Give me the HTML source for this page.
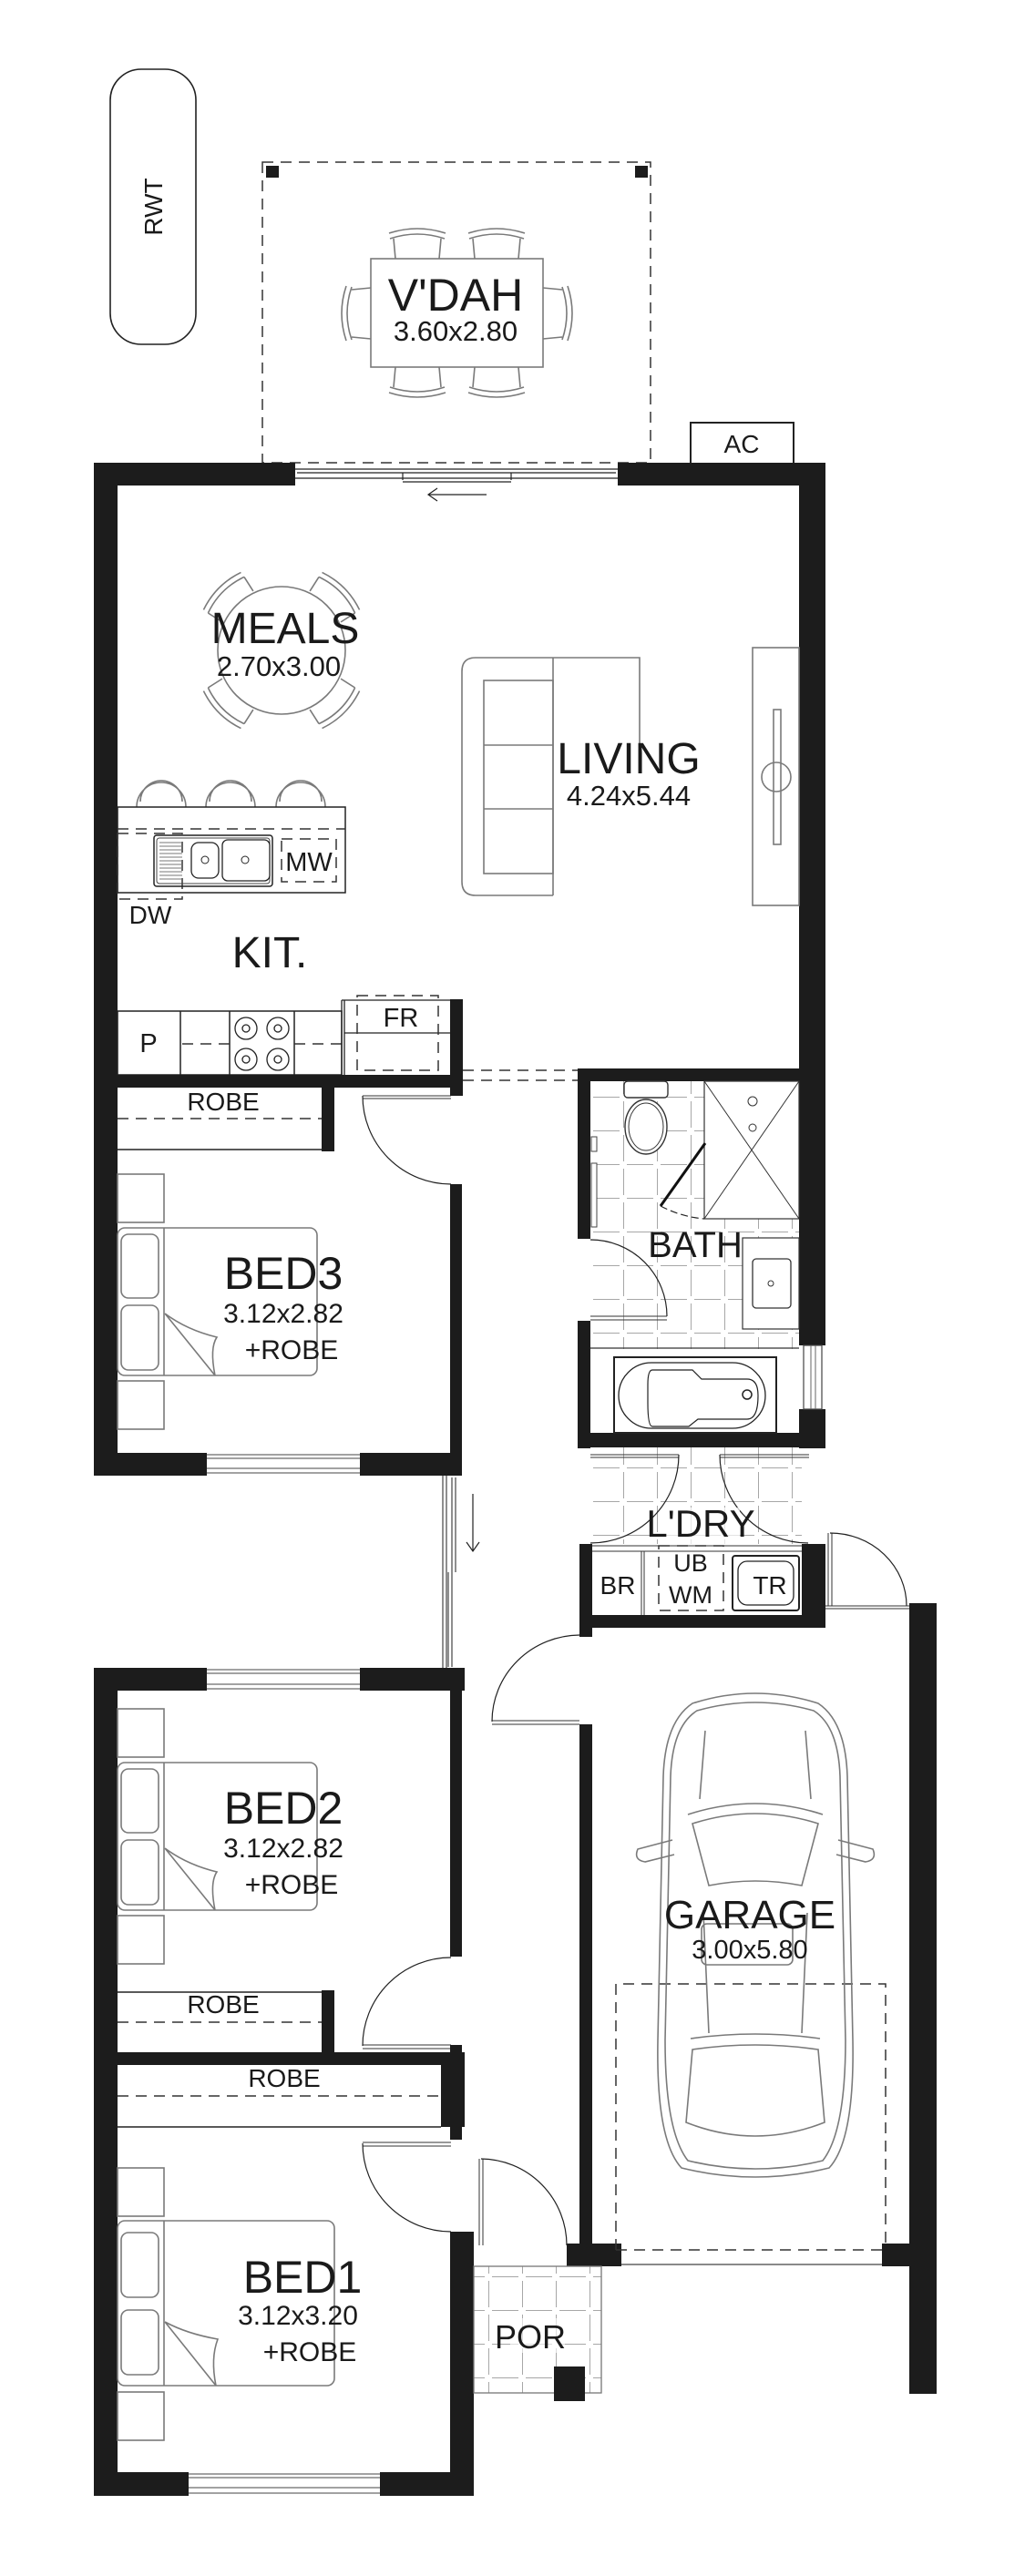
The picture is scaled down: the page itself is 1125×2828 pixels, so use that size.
<!DOCTYPE html>
<html><head><meta charset="utf-8">
<style>
html,body{margin:0;padding:0;background:#fff;}
svg{display:block;}
text{font-family:"Liberation Sans",Arial,sans-serif;fill:#1a1a1a;text-anchor:middle;}
.f{fill:none;stroke:#7a7a7a;stroke-width:1.6;}
.d{fill:none;stroke:#222;stroke-width:1.2;}
.dash{fill:none;stroke:#333;stroke-width:1.5;stroke-dasharray:12 8;}
.w{fill:#1c1c1c;}
</style></head><body>
<svg width="1125" height="2828" viewBox="0 0 1125 2828" xmlns="http://www.w3.org/2000/svg">
<defs>
<pattern id="tile" patternUnits="userSpaceOnUse" width="37" height="37" x="647" y="1168">
<path d="M0 4 V33 M4 37 H33" stroke="#8a8a8a" stroke-width="1.5" fill="none"/>
</pattern>
</defs>

<rect x="121" y="76" width="94" height="302" rx="34" fill="none" stroke="#222" stroke-width="1.6"/>
<text x="0" y="0" font-size="28" transform="translate(178,227) rotate(-90)">RWT</text>

<rect x="288" y="178" width="426" height="330" class="dash" stroke="#555"/>
<rect x="292" y="182" width="14" height="13" class="w"/>
<rect x="697" y="182" width="14" height="13" class="w"/>
<rect x="407" y="284" width="189" height="119" class="f"/>
<g class="f">
<path d="M428 262 Q458 252 488 262 M427 256 Q458 246 489 256 M432 262 L434 284 M484 262 L482 284"/>
<path d="M515 262 Q545 252 575 262 M514 256 Q545 246 576 256 M519 262 L521 284 M571 262 L569 284"/>
<path d="M428 425 Q458 435 488 425 M427 431 Q458 441 489 431 M432 425 L434 403 M484 425 L482 403"/>
<path d="M515 425 Q545 435 575 425 M514 431 Q545 441 576 431 M519 425 L521 403 M571 425 L569 403"/>
<path d="M386 315 Q376 344 386 373 M380 314 Q370 344 380 374 M386 318 L407 316 M386 370 L407 372"/>
<path d="M617 315 Q627 344 617 373 M623 314 Q633 344 623 374 M617 318 L596 316 M617 370 L596 372"/>
</g>
<text x="500" y="341" font-size="50">V'DAH</text>
<text x="500" y="374" font-size="31">3.60x2.80</text>

<rect x="758" y="464" width="113" height="45" fill="#fff" stroke="#222" stroke-width="2"/>
<text x="814" y="497" font-size="28">AC</text>

<rect x="103" y="508" width="221" height="25" class="w"/>
<rect x="678" y="508" width="228" height="25" class="w"/>
<g class="d" stroke="#333">
<path d="M324 515 H678 M324 525 H678 M326 519 H442 V527 M442 519 H561 M442 529 H561 M561 519 V527 M561 519 H676"/>
<path d="M534 543 H470 M480 536 L470 543 L480 550"/>
</g>

<rect x="103" y="508" width="26" height="1112" class="w"/>
<rect x="877" y="508" width="29" height="969" class="w"/>
<rect x="877" y="1547" width="29" height="43" class="w"/>
<rect x="882" y="1477" width="20" height="70" fill="none" stroke="#444" stroke-width="1.2"/>
<path d="M890 1477 V1547 M895 1477 V1547" stroke="#666" stroke-width="1"/>

<circle cx="309" cy="714" r="70" class="f"/>
<g class="f">
<g transform="translate(309,714) rotate(-45)"><path d="M-28 -86 Q0 -96 28 -86 M-29 -92 Q0 -102 29 -92 M-28 -86 L-24 -68 M28 -86 L24 -68"/></g>
<g transform="translate(309,714) rotate(45)"><path d="M-28 -86 Q0 -96 28 -86 M-29 -92 Q0 -102 29 -92 M-28 -86 L-24 -68 M28 -86 L24 -68"/></g>
<g transform="translate(309,714) rotate(135)"><path d="M-28 -86 Q0 -96 28 -86 M-29 -92 Q0 -102 29 -92 M-28 -86 L-24 -68 M28 -86 L24 -68"/></g>
<g transform="translate(309,714) rotate(225)"><path d="M-28 -86 Q0 -96 28 -86 M-29 -92 Q0 -102 29 -92 M-28 -86 L-24 -68 M28 -86 L24 -68"/></g>
</g>
<text x="313" y="706" font-size="48">MEALS</text>
<text x="306" y="742" font-size="31">2.70x3.00</text>

<g class="f">
<path d="M607 983 H522 Q507 983 507 968 V737 Q507 722 522 722 H702 V817"/>
<path d="M607 722 V983"/>
<rect x="531" y="747" width="76" height="212"/>
<path d="M531 818 H607 M531 888 H607"/>
<rect x="826" y="711" width="51" height="283"/>
<rect x="849" y="779" width="8" height="148"/>
<circle cx="852" cy="853" r="16"/>
</g>
<text x="690" y="849" font-size="48">LIVING</text>
<text x="690" y="884" font-size="31">4.24x5.44</text>

<g class="f">
<path d="M150 886 A27 27 0 0 1 204 886 M154 880 A23 23 0 0 1 200 880"/>
<path d="M226 886 A27 27 0 0 1 280 886 M230 880 A23 23 0 0 1 276 880"/>
<path d="M303 886 A27 27 0 0 1 357 886 M307 880 A23 23 0 0 1 353 880"/>
</g>
<rect x="129" y="886" width="250" height="94" fill="none" stroke="#222" stroke-width="1.5"/>
<path d="M129 910 H379" class="dash"/>
<rect x="129" y="915" width="71" height="72" class="dash"/>
<rect x="169" y="917" width="130" height="56" rx="3" fill="none" stroke="#222" stroke-width="1.5"/>
<rect x="172" y="920" width="124" height="50" rx="3" fill="none" stroke="#444" stroke-width="1"/>
<g stroke="#777" stroke-width="1"><path d="M175 925 H200 M175 929 H200 M175 933 H200 M175 937 H200 M175 941 H200 M175 945 H200 M175 949 H200 M175 953 H200 M175 957 H200 M175 961 H200 M175 965 H200"/></g>
<rect x="210" y="925" width="30" height="39" rx="8" fill="none" stroke="#222" stroke-width="1.3"/>
<rect x="244" y="922" width="52" height="45" rx="6" fill="none" stroke="#222" stroke-width="1.3"/>
<circle cx="225" cy="944" r="4" fill="none" stroke="#222"/><circle cx="269" cy="944" r="4" fill="none" stroke="#222"/>
<rect x="309" y="921" width="60" height="47" class="dash"/>
<text x="339" y="956" font-size="29">MW</text>
<text x="165" y="1014" font-size="28">DW</text>
<text x="296" y="1062" font-size="48">KIT.</text>

<rect x="129" y="1110" width="246" height="70" fill="none" stroke="#222" stroke-width="1.5"/>
<path d="M198 1110 V1180 M252 1110 V1180 M323 1110 V1180" stroke="#222" stroke-width="1.5"/>
<path d="M200 1146 H252 M323 1146 H375" class="dash"/>
<text x="163" y="1155" font-size="29">P</text>
<g fill="none" stroke="#222" stroke-width="1.3">
<circle cx="270" cy="1129" r="12"/><circle cx="270" cy="1129" r="4"/>
<circle cx="305" cy="1129" r="12"/><circle cx="305" cy="1129" r="4"/>
<circle cx="270" cy="1163" r="12"/><circle cx="270" cy="1163" r="4"/>
<circle cx="305" cy="1163" r="12"/><circle cx="305" cy="1163" r="4"/>
</g>
<path d="M375 1098 H494 M375 1098 V1180 M378 1098 V1180 M378 1134 H494" stroke="#222" stroke-width="1.3" fill="none"/>
<rect x="392" y="1093" width="89" height="82" class="dash"/>
<text x="440" y="1127" font-size="29">FR</text>
<rect x="494" y="1097" width="14" height="106" class="w"/>

<path d="M508 1175 H634 M508 1186 H634" class="dash"/>

<rect x="103" y="1180" width="405" height="14" class="w"/>
<rect x="353" y="1194" width="14" height="70" class="w"/>
<path d="M129 1262 H353" stroke="#222" stroke-width="1.5"/>
<path d="M129 1228 H353" class="dash"/>
<text x="245" y="1219" font-size="28">ROBE</text>
<path d="M398 1203 H495 M398 1206 H495" stroke="#333" stroke-width="1"/>
<path d="M398 1203 A97 97 0 0 0 495 1300" class="d"/>
<rect x="494" y="1300" width="13" height="320" class="w"/>
<rect x="103" y="1595" width="124" height="25" class="w"/>
<rect x="395" y="1595" width="112" height="25" class="w"/>
<path d="M227 1597 H395 M227 1601 H395 M227 1612 H395 M227 1617 H395" stroke="#444" stroke-width="1.1"/>
<g class="f">
<rect x="129" y="1289" width="51" height="53"/>
<rect x="129" y="1516" width="51" height="53"/>
<rect x="129" y="1348" width="219" height="162" rx="8"/>
<path d="M180 1348 V1510"/>
<rect x="133" y="1355" width="41" height="70" rx="8"/>
<rect x="133" y="1433" width="41" height="71" rx="8"/>
<path d="M181 1442 L236 1510 Q230 1480 238 1468 Q205 1460 181 1442"/>
</g>
<text x="311" y="1415" font-size="50">BED3</text>
<text x="311" y="1452" font-size="30">3.12x2.82</text>
<text x="320" y="1492" font-size="30">+ROBE</text>

<rect x="648" y="1187" width="229" height="386" fill="url(#tile)"/>
<rect x="634" y="1173" width="272" height="14" class="w"/>
<rect x="634" y="1173" width="14" height="187" class="w"/>
<rect x="634" y="1450" width="14" height="140" class="w"/>
<rect x="634" y="1573" width="272" height="16" class="w"/>
<rect x="649" y="1248" width="6" height="16" fill="#fff" stroke="#444"/>
<rect x="649" y="1277" width="6" height="70" fill="#fff" stroke="#444"/>
<rect x="685" y="1187" width="48" height="18" rx="4" fill="#fff" stroke="#333" stroke-width="1.4"/>
<ellipse cx="709" cy="1237" rx="23" ry="30" fill="#fff" stroke="#333" stroke-width="1.4"/>
<ellipse cx="709" cy="1237" rx="19" ry="26" fill="none" stroke="#333" stroke-width="1"/>
<rect x="773" y="1187" width="104" height="151" fill="#fff" stroke="#333" stroke-width="1.2"/>
<path d="M773 1187 L877 1338 M877 1187 L773 1338" stroke="#333" stroke-width="1"/>
<circle cx="826" cy="1238" r="4" fill="#fff" stroke="#333"/>
<circle cx="826" cy="1209" r="5" fill="#fff" stroke="#333"/>
<path d="M774 1255 L725 1324" stroke="#111" stroke-width="3"/>
<path d="M725 1324 Q748 1336 773 1338" class="d" stroke-dasharray="8 4"/>
<rect x="815" y="1359" width="62" height="100" fill="#fff" stroke="#333" stroke-width="1.2"/>
<rect x="826" y="1382" width="42" height="54" rx="4" fill="none" stroke="#333" stroke-width="1.3"/>
<circle cx="846" cy="1409" r="3" fill="none" stroke="#333"/>
<text x="763" y="1380" font-size="40">BATH</text>
<path d="M648 1445 H732 M648 1449 H732" stroke="#333" stroke-width="1"/>
<path d="M648 1361 A84 84 0 0 1 732 1445" class="d"/>
<rect x="648" y="1481" width="229" height="92" fill="#fff"/>
<path d="M648 1480 H877" stroke="#333" stroke-width="1.2"/>
<rect x="674" y="1490" width="178" height="83" fill="none" stroke="#222" stroke-width="2"/>
<rect x="679" y="1496" width="161" height="72" rx="36" fill="none" stroke="#222" stroke-width="1.3"/>
<path d="M716 1504 H760 L770 1514 H820 Q832 1514 832 1532 Q832 1558 820 1558 H766 L756 1566 H716 Q711 1566 711 1540 V1520 Q711 1504 716 1504" fill="none" stroke="#222" stroke-width="1.2"/>
<circle cx="820" cy="1531" r="5" fill="none" stroke="#222" stroke-width="1.5"/>

<rect x="648" y="1589" width="232" height="106" fill="url(#tile)"/>
<path d="M648 1597 H745 M648 1600 H745 M790 1597 H888 M790 1600 H888" stroke="#333" stroke-width="1"/>
<path d="M745 1597 A97 97 0 0 1 648 1694" class="d"/>
<path d="M790 1597 A97 97 0 0 0 887 1694" class="d"/>
<rect x="730" y="1655" width="82" height="40" fill="#fff" opacity="0.7"/>
<text x="769" y="1687" font-size="42">L'DRY</text>
<rect x="636" y="1695" width="14" height="100" class="w"/>
<rect x="880" y="1695" width="26" height="92" class="w"/>
<rect x="636" y="1773" width="270" height="14" class="w"/>
<path d="M650 1697 H880 M650 1703 H880" stroke="#333" stroke-width="1"/>
<path d="M704 1703 V1773 M707 1703 V1773" stroke="#333" stroke-width="1"/>
<text x="678" y="1750" font-size="28">BR</text>
<rect x="723" y="1697" width="71" height="71" class="dash"/>
<text x="758" y="1725" font-size="27">UB</text>
<text x="758" y="1760" font-size="27">WM</text>
<rect x="804" y="1708" width="73" height="60" rx="3" fill="none" stroke="#222" stroke-width="2"/>
<rect x="810" y="1714" width="61" height="48" rx="10" fill="none" stroke="#222" stroke-width="1.3"/>
<text x="845" y="1750" font-size="28">TR</text>
<path d="M909 1683 V1763 M913 1683 V1763" stroke="#333" stroke-width="1"/>
<path d="M911 1683 A84 80 0 0 1 995 1763" class="d"/>
<path d="M906 1763 H998 M906 1766 H998" stroke="#333" stroke-width="1"/>

<path d="M486 1620 V1832 M490 1620 V1832 M496 1622 V1726 M500 1622 V1726 M492 1726 V1830 M496 1726 V1830" stroke="#333" stroke-width="1.1" fill="none"/>
<path d="M519 1640 V1703 M512 1693 L519 1703 L526 1693" class="d"/>

<rect x="636" y="1787" width="14" height="10" class="w"/>
<path d="M540 1889 H636 M540 1893 H636" stroke="#333" stroke-width="1"/>
<path d="M540 1890 A97 95 0 0 1 636 1795" class="d"/>
<rect x="636" y="1893" width="14" height="570" class="w"/>
<rect x="998" y="1760" width="30" height="868" class="w"/>
<rect x="622" y="2463" width="60" height="25" class="w"/>
<rect x="968" y="2463" width="60" height="25" class="w"/>
<path d="M682 2486 H968" stroke="#444" stroke-width="1.3"/>
<path d="M676 2470 V2178 H972 V2470 M676 2470 H968" class="dash"/>
<g class="f" stroke-width="1.5">
<path d="M760 1870 Q829 1848 898 1870 Q928 1890 930 1950 L936 2240 Q938 2350 910 2380 Q829 2400 748 2380 Q720 2350 722 2240 L728 1950 Q730 1890 760 1870 Z"/>
<path d="M765 1878 Q829 1860 893 1878 Q920 1895 922 1950 L928 2240 Q928 2340 903 2372 Q829 2390 755 2372 Q730 2340 730 2240 L736 1950 Q738 1895 765 1878 Z"/>
<path d="M755 1992 Q829 1968 903 1992 M760 2002 Q829 1980 898 2002 L880 2070 Q829 2060 778 2070 Z"/>
<path d="M758 2238 Q829 2228 900 2238 M760 2250 Q829 2240 898 2250 L905 2330 Q829 2360 753 2330 Z"/>
<path d="M774 1900 L768 1975 M884 1900 L890 1975"/>
<path d="M738 2020 L700 2030 Q695 2042 708 2044 L740 2036 M920 2020 L958 2030 Q963 2042 950 2044 L918 2036"/>
<path d="M772 2100 L778 2232 M886 2100 L880 2232"/>
<rect x="770" y="2112" width="100" height="45" rx="6"/>
</g>
<text x="823" y="2117" font-size="44">GARAGE</text>
<text x="823" y="2150" font-size="29">3.00x5.80</text>

<rect x="103" y="1831" width="124" height="25" class="w"/>
<rect x="395" y="1831" width="115" height="25" class="w"/>
<path d="M227 1833 H395 M227 1837 H395 M227 1849 H395 M227 1854 H395" stroke="#444" stroke-width="1.1"/>
<rect x="103" y="1831" width="26" height="904" class="w"/>
<rect x="494" y="1856" width="13" height="292" class="w"/>
<path d="M398 2245 H495 M398 2249 H495" stroke="#333" stroke-width="1"/>
<path d="M398 2246 A97 97 0 0 1 495 2149" class="d"/>
<rect x="494" y="2245" width="13" height="10" class="w"/>
<g class="f">
<rect x="129" y="1876" width="51" height="53"/>
<rect x="129" y="2103" width="51" height="53"/>
<rect x="129" y="1935" width="219" height="162" rx="8"/>
<path d="M180 1935 V2097"/>
<rect x="133" y="1942" width="41" height="70" rx="8"/>
<rect x="133" y="2020" width="41" height="71" rx="8"/>
<path d="M181 2029 L236 2097 Q230 2067 238 2055 Q205 2047 181 2029"/>
</g>
<text x="311" y="2002" font-size="50">BED2</text>
<text x="311" y="2039" font-size="30">3.12x2.82</text>
<text x="320" y="2079" font-size="30">+ROBE</text>
<rect x="353" y="2185" width="14" height="70" class="w"/>
<path d="M129 2187 H353" stroke="#222" stroke-width="1.5"/>
<path d="M129 2220 H353" class="dash"/>
<text x="245" y="2210" font-size="28">ROBE</text>
<rect x="103" y="2253" width="407" height="14" class="w"/>
<rect x="484" y="2253" width="26" height="82" class="w"/>
<path d="M129 2335 H484" stroke="#222" stroke-width="1.5"/>
<path d="M129 2301 H484" class="dash"/>
<text x="312" y="2291" font-size="28">ROBE</text>
<rect x="494" y="2335" width="13" height="14" class="w"/>
<path d="M398 2352 H495 M398 2356 H495" stroke="#333" stroke-width="1"/>
<path d="M398 2353 A97 97 0 0 0 495 2450" class="d"/>
<rect x="494" y="2450" width="26" height="290" class="w"/>
<rect x="103" y="2714" width="104" height="26" class="w"/>
<rect x="417" y="2714" width="103" height="26" class="w"/>
<path d="M207 2716 H417 M207 2720 H417 M207 2731 H417 M207 2737 H417" stroke="#444" stroke-width="1.1"/>
<g class="f">
<rect x="129" y="2380" width="51" height="53"/>
<rect x="129" y="2626" width="51" height="53"/>
<rect x="129" y="2438" width="238" height="181" rx="8"/>
<path d="M180 2438 V2619"/>
<rect x="133" y="2451" width="41" height="71" rx="8"/>
<rect x="133" y="2536" width="41" height="71" rx="8"/>
<path d="M181 2549 L237 2619 Q231 2589 239 2568 Q205 2562 181 2549"/>
</g>
<text x="332" y="2517" font-size="50">BED1</text>
<text x="327" y="2552" font-size="30">3.12x3.20</text>
<text x="340" y="2592" font-size="30">+ROBE</text>

<path d="M526 2370 V2465 M530 2370 V2465" stroke="#333" stroke-width="1"/>
<path d="M528 2370 A95 95 0 0 1 622 2465" class="d"/>
<rect x="520" y="2488" width="140" height="139" fill="url(#tile)" stroke="#777" stroke-width="1.3"/>
<rect x="560" y="2545" width="60" height="38" fill="#fff" opacity="0.6"/>
<text x="582" y="2578" font-size="36">POR</text>
<rect x="608" y="2598" width="34" height="38" class="w"/>
</svg>
</body></html>
